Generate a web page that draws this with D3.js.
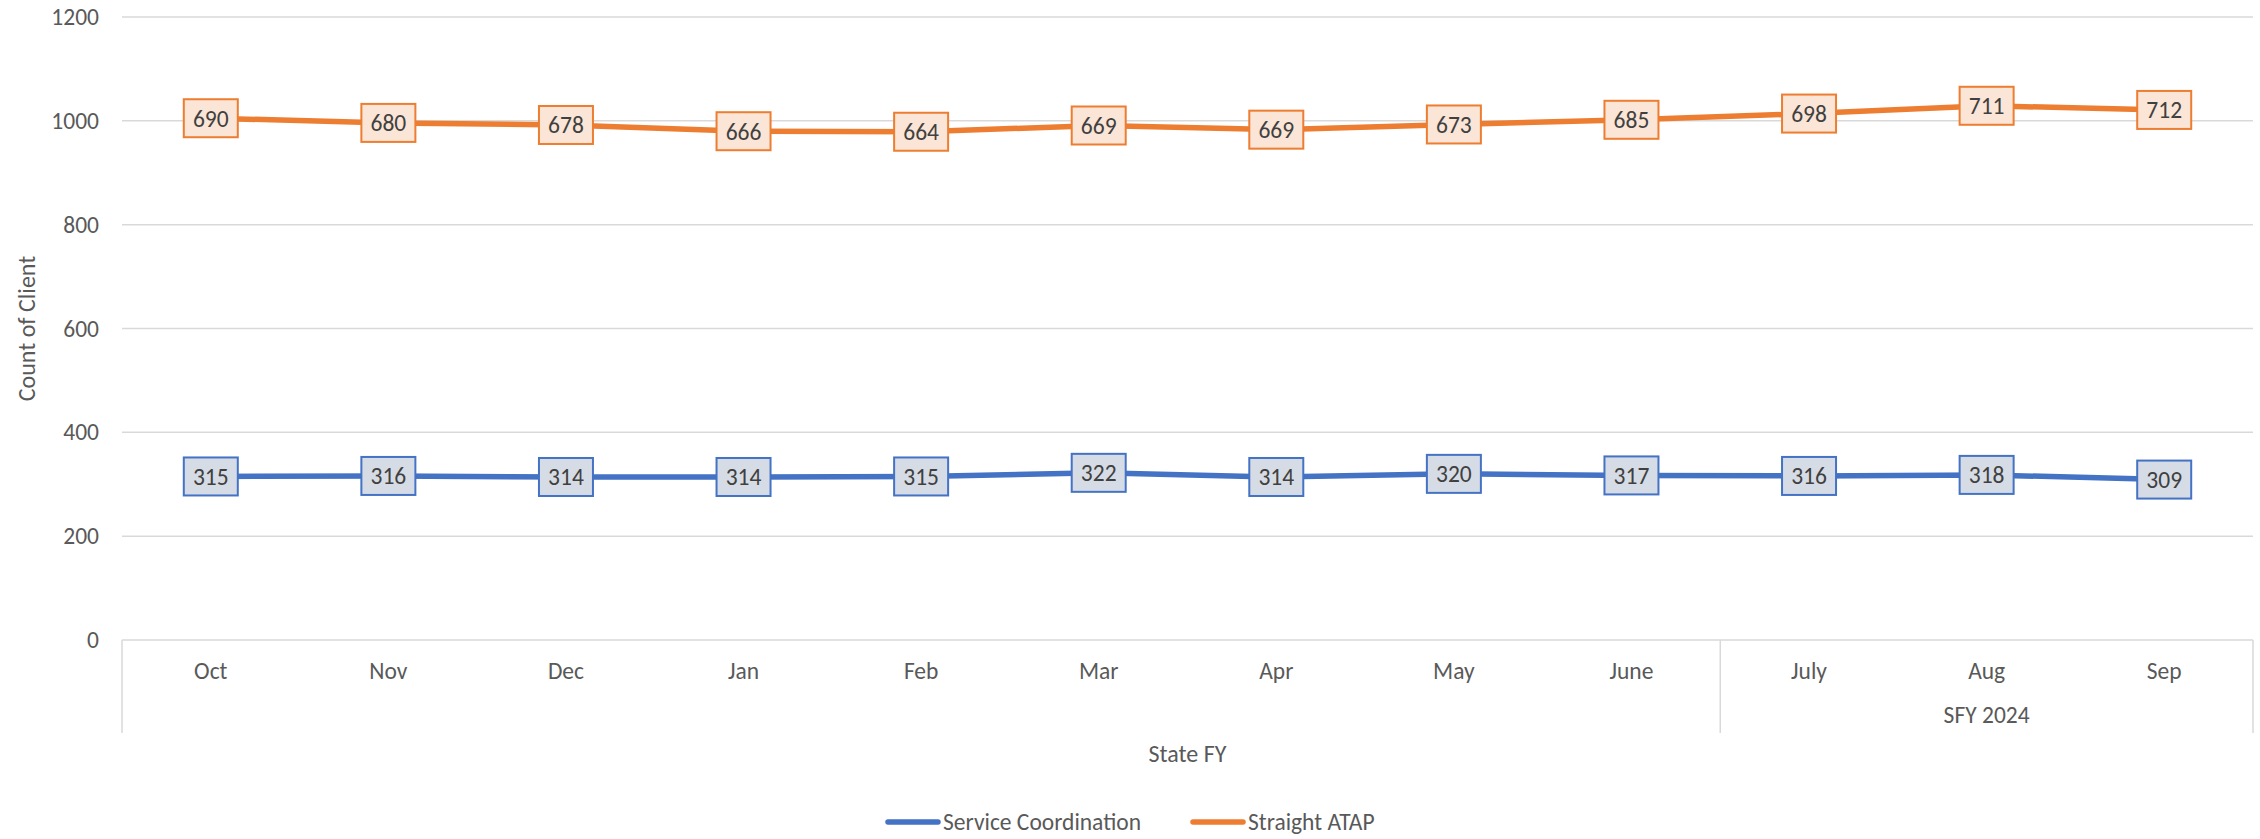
<!DOCTYPE html>
<html>
<head>
<meta charset="utf-8">
<script src="https://cdn.jsdelivr.net/npm/d3@7"></script>
<style>
  body { margin: 0; background: #fff; }
  text { font-family: Carlito, Lato, "Open Sans", sans-serif; }
</style>
</head>
<body>
<div id="container"></div>
<script>
/* CONSTANTS AND GLOBALS */
const width = 2260,
  height = 839,
  margin = { top: 17, right: 7, bottom: 199, left: 122 };

// category labels and groups
const months = ["Oct", "Nov", "Dec", "Jan", "Feb", "Mar", "Apr", "May", "June", "July", "Aug", "Sep"];
const groups = [
  { label: "", start: 0, end: 9 },
  { label: "SFY 2024", start: 9, end: 12 }
];

// series (stacked lines)
const seriesNames = ["Service Coordination", "Straight ATAP"];
const serviceCoordination = [315, 316, 314, 314, 315, 322, 314, 320, 317, 316, 318, 309];
const straightATAP = [690, 680, 678, 666, 664, 669, 669, 673, 685, 698, 711, 712];
const yTicks = [0, 200, 400, 600, 800, 1000, 1200];

const colors = ["#4472C4", "#ED7D31"];
const boxFill = ["#D6DCE5", "#FBE5D6"];
const fontSize = 23.5;

// build rows for d3.stack
const rows = months.map((m, i) => ({
  month: m,
  "Service Coordination": serviceCoordination[i],
  "Straight ATAP": straightATAP[i]
}));
const stacked = d3.stack().keys(seriesNames)(rows);

const svg = d3.select("#container").append("svg")
  .attr("width", width)
  .attr("height", height);

const innerW = width - margin.left - margin.right,
  innerH = height - margin.top - margin.bottom;

const xScale = d3.scaleBand()
  .domain(months)
  .range([margin.left, margin.left + innerW])
  .padding(0);

const yScale = d3.scaleLinear()
  .domain([0, 1200])
  .range([margin.top + innerH, margin.top]);

// gridlines
svg.append("g")
  .selectAll("line")
  .data(yTicks)
  .join("line")
  .attr("x1", margin.left)
  .attr("x2", margin.left + innerW)
  .attr("y1", d => yScale(d))
  .attr("y2", d => yScale(d))
  .attr("stroke", "#D9D9D9")
  .attr("stroke-width", 1.5);

// y axis labels
const yAxis = svg.append("g")
  .attr("transform", `translate(${margin.left}, 0)`)
  .call(d3.axisLeft(yScale).tickValues(yTicks).tickFormat(d3.format("d")).tickSize(0).tickPadding(23));
yAxis.select(".domain").remove();
yAxis.selectAll("text")
  .attr("font-family", "Carlito, Lato, sans-serif")
  .attr("font-size", fontSize)
  .attr("fill", "#595959");

// category axis (multi-level)
const baseY = yScale(0);
const axisBottom = baseY + 93;
const sepX = [0, 9, 12].map(i => i < months.length ? xScale(months[i]) : margin.left + innerW);

svg.append("g")
  .selectAll("line")
  .data(sepX)
  .join("line")
  .attr("x1", d => d)
  .attr("x2", d => d)
  .attr("y1", baseY)
  .attr("y2", axisBottom)
  .attr("stroke", "#D9D9D9")
  .attr("stroke-width", 1.5);

const xAxis = svg.append("g")
  .attr("transform", `translate(0, ${baseY})`)
  .call(d3.axisBottom(xScale).tickSize(0).tickPadding(22));
xAxis.select(".domain").remove();
xAxis.selectAll("text")
  .attr("font-family", "Carlito, Lato, sans-serif")
  .attr("font-size", fontSize)
  .attr("fill", "#595959");

svg.append("g")
  .selectAll("text")
  .data(groups)
  .join("text")
  .attr("x", d => {
    const x0 = xScale(months[d.start]);
    const x1 = d.end < months.length ? xScale(months[d.end]) : margin.left + innerW;
    return (x0 + x1) / 2;
  })
  .attr("y", baseY + 83)
  .attr("text-anchor", "middle")
  .attr("font-size", fontSize)
  .attr("fill", "#595959")
  .text(d => d.label);

// axis titles
svg.append("text")
  .attr("x", margin.left + innerW / 2)
  .attr("y", 762)
  .attr("text-anchor", "middle")
  .attr("font-size", 24)
  .attr("fill", "#595959")
  .text("State FY");

svg.append("text")
  .attr("transform", `translate(35, ${margin.top + innerH / 2}) rotate(-90)`)
  .attr("text-anchor", "middle")
  .attr("font-size", 24)
  .attr("fill", "#595959")
  .text("Count of Client");

// lines
const lineGen = d3.line()
  .x(d => xScale(d.data.month) + xScale.bandwidth() / 2)
  .y(d => yScale(d[1]));

svg.append("g")
  .selectAll("path")
  .data(stacked)
  .join("path")
  .attr("d", d => lineGen(d))
  .attr("fill", "none")
  .attr("stroke", (d, i) => colors[i])
  .attr("stroke-width", 5.5)
  .attr("stroke-linejoin", "round")
  .attr("stroke-linecap", "round");

// data label boxes
const boxW = 54, boxH = 38;
stacked.forEach((s, si) => {
  const g = svg.append("g");
  const lbl = g.selectAll("g")
    .data(s)
    .join("g")
    .attr("transform", d => `translate(${xScale(d.data.month) + xScale.bandwidth() / 2}, ${yScale(d[1])})`);
  lbl.append("rect")
    .attr("x", -boxW / 2)
    .attr("y", -boxH / 2)
    .attr("width", boxW)
    .attr("height", boxH)
    .attr("fill", boxFill[si])
    .attr("stroke", colors[si])
    .attr("stroke-width", 2);
  lbl.append("text")
    .attr("text-anchor", "middle")
    .attr("dy", "0.36em")
    .attr("font-size", fontSize)
    .attr("fill", "#404040")
    .text(d => d.data[s.key]);
});

// legend
const legendItems = [
  { name: seriesNames[0], x: 888, color: colors[0] },
  { name: seriesNames[1], x: 1193, color: colors[1] }
];
const legend = svg.append("g")
  .selectAll("g")
  .data(legendItems)
  .join("g")
  .attr("transform", d => `translate(${d.x}, 822)`);
legend.append("line")
  .attr("x1", 0)
  .attr("x2", 50)
  .attr("stroke", d => d.color)
  .attr("stroke-width", 5.5)
  .attr("stroke-linecap", "round");
legend.append("text")
  .attr("x", 55)
  .attr("dy", "0.34em")
  .attr("font-size", 23.5)
  .attr("fill", "#595959")
  .text(d => d.name);
</script>
</body>
</html>
